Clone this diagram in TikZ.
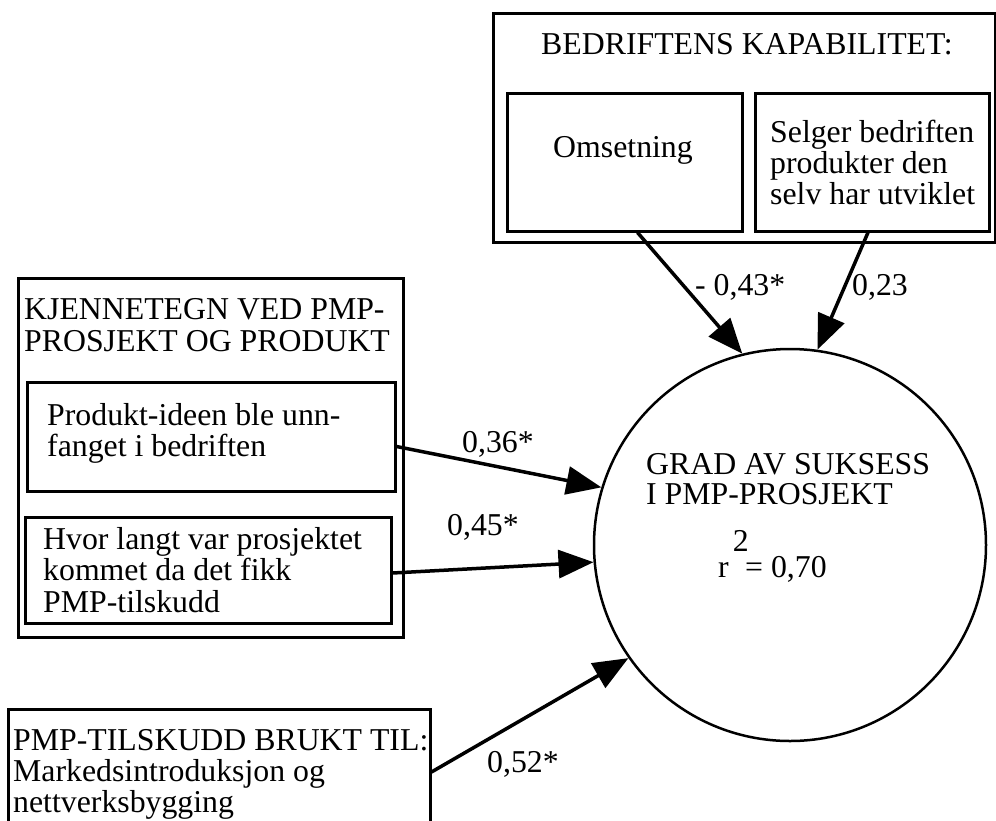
\documentclass[tikz,border=0pt]{standalone}
\usepackage{fontspec}
\setmainfont{Liberation Serif}
\usetikzlibrary{arrows.meta}
\newcommand{\mlines}[2]{{\fontsize{31.8pt}{#1}\selectfont\begin{tabular}[t]{@{}l@{}}#2\end{tabular}}}
\begin{document}
\begin{tikzpicture}[x=1pt,y=-1pt,
  font=\fontsize{31.8pt}{32pt}\selectfont,
  box/.style={draw, line width=3pt, inner sep=0pt},
  txt/.style={inner sep=0pt, anchor=base west},
  lbl/.style={inner sep=0pt, anchor=base west},
  arr/.style={line width=3.5pt, -{Triangle[length=35pt,width=28pt]}}]
\useasboundingbox (0,0) rectangle (996,820);
\fill[white] (0,0) rectangle (996,820);
\clip (0,0) rectangle (996,820);
% top group
\node[box, minimum width=502pt, minimum height=229pt] (topouter) at (744,127.5) {};
\node[box, minimum width=235pt, minimum height=138pt] (omset) at (624.5,162) {};
\node[box, minimum width=234pt, minimum height=138pt] (selger) at (872,162) {};
\node[inner sep=0pt, anchor=base] (toptitle) at (747,54) {BEDRIFTENS KAPABILITET:};
\node[inner sep=0pt, anchor=base] (omsettxt) at (623,157) {Omsetning};
\node[txt] (selgertxt) at (770,142) {\mlines{31pt}{Selger bedriften\\produkter den\\selv har utviklet}};
% left group
\node[box, minimum width=385pt, minimum height=359pt] (leftouter) at (210.5,457.5) {};
\node[box, minimum width=368pt, minimum height=109pt] (prod) at (211,436.5) {};
\node[box, minimum width=366pt, minimum height=106pt] (hvor) at (208,570) {};
\node[txt] (lefttitle) at (24,319) {\mlines{32pt}{KJENNETEGN VED PMP-\\PROSJEKT OG PRODUKT}};
\node[txt] (prodtxt) at (47,425) {\mlines{30pt}{Produkt-ideen ble unn-\\fanget i bedriften}};
\node[txt] (hvortxt) at (43,549) {\mlines{31.5pt}{Hvor langt var prosjektet\\kommet da det fikk\\PMP-tilskudd}};
% bottom box
\node[box, minimum width=422pt, minimum height=121pt] (bottom) at (219,769.5) {};
\node[txt] (bottomtxt) at (13,750) {\mlines{30pt}{PMP-TILSKUDD BRUKT TIL:\\Markedsintroduksjon og\\nettverksbygging}};
% circle
\node[draw, circle, line width=2.5pt, minimum size=392pt, inner sep=0pt] (circ) at (790,545) {};
\node[txt] (circtxt) at (646,474) {\mlines{30pt}{GRAD AV SUKSESS\\I PMP-PROSJEKT}};
\node[txt] (rsq) at (718,577) {r\hspace{4pt}\raisebox{26pt}{2}\hspace{-3.5pt}= 0,70};
% connectors
\draw[arr] ([xshift=13pt]omset.south) -- (circ.104.2);
\draw[arr] ([xshift=-4pt]selger.south) -- (circ.82.1);
\draw[arr] ([yshift=-10pt]prod.east) -- (circ.163.1);
\draw[arr] ([yshift=-3pt]hvor.east) -- (circ.185);
\draw[arr] ([yshift=-2.5pt]bottom.east) -- (circ.215);
% labels
\node[lbl] (l43) at (695,295) {- 0,43*};
\node[lbl] (l23) at (852,295) {0,23};
\node[lbl] (l36) at (462,452) {0,36*};
\node[lbl] (l45) at (447,535) {0,45*};
\node[lbl] (l52) at (487,772) {0,52*};
\end{tikzpicture}
\end{document}
